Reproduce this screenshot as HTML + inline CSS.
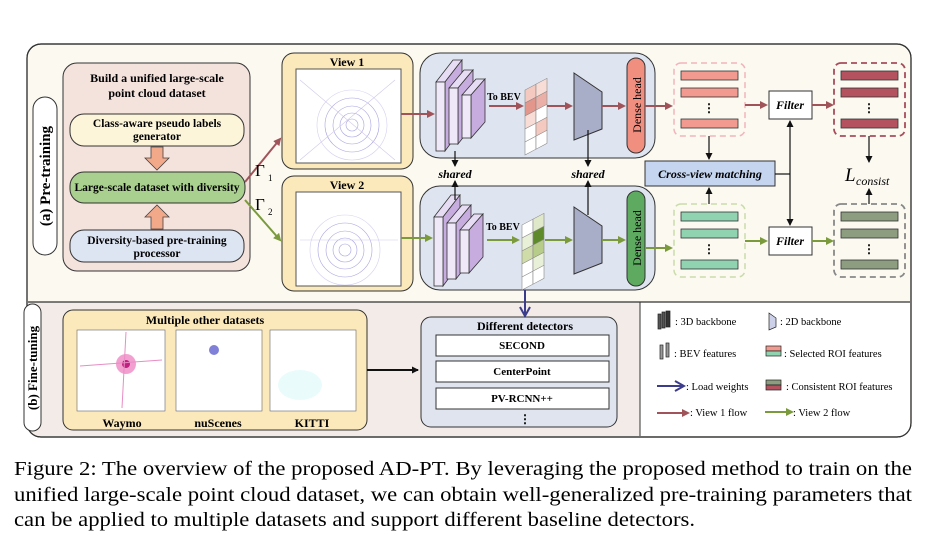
<!DOCTYPE html>
<html><head><meta charset="utf-8"><style>
html,body{margin:0;padding:0;background:#fff;}
svg{display:block;}
text{font-family:"Liberation Serif",serif;}
</style></head><body>
<svg width="951" height="539" viewBox="0 0 951 539" xmlns="http://www.w3.org/2000/svg">
<defs>
<marker id="ar" markerWidth="8" markerHeight="8" refX="6" refY="4" orient="auto" markerUnits="userSpaceOnUse"><path d="M0,0 L8,4 L0,8 z" fill="#a0545a"/></marker>
<marker id="ag" markerWidth="8" markerHeight="8" refX="6" refY="4" orient="auto" markerUnits="userSpaceOnUse"><path d="M0,0 L8,4 L0,8 z" fill="#7a9a3c"/></marker>
<marker id="ak" markerWidth="7" markerHeight="7" refX="6" refY="3.5" orient="auto" markerUnits="userSpaceOnUse"><path d="M0,0 L7,3.5 L0,7 z" fill="#111"/></marker>
<marker id="ab" markerWidth="12" markerHeight="12" refX="10" refY="6" orient="auto" markerUnits="userSpaceOnUse"><path d="M1,1 L10,6 L1,11" fill="none" stroke="#3c3c8c" stroke-width="2"/></marker>
<g id="plates">
 <g stroke="#333" stroke-width="0.8">
  <polygon points="436,82 453,60 462,60 445,82" fill="#e6dcf4"/>
  <polygon points="445,82 462,60 462,128 445,151" fill="#c7addf"/>
  <rect x="436" y="82" width="9" height="69" fill="#efe8f8"/>
  <polygon points="449,88 464,70 473,70 458,88" fill="#e6dcf4"/>
  <polygon points="458,88 473,70 473,125 458,144" fill="#c7addf"/>
  <rect x="449" y="88" width="9" height="56" fill="#efe8f8"/>
  <polygon points="462,95 476,79 485,79 471,95" fill="#e6dcf4"/>
  <polygon points="471,95 485,79 485,122 471,138" fill="#c7addf"/>
  <rect x="462" y="95" width="9" height="43" fill="#efe8f8"/>
 </g>
</g>
</defs>

<rect x="27" y="44" width="884" height="393" rx="14" fill="#fbf9f0" stroke="#333" stroke-width="1.2"/>
<path d="M28,302 L640,302 L640,436 L40,436 Q28,436 28,424 Z" fill="#f3ebe7"/>
<path d="M640,302 L910,302 L910,424 Q910,436 898,436 L640,436 Z" fill="#fff"/>
<line x1="28" y1="302" x2="910" y2="302" stroke="#333" stroke-width="1.2"/>
<line x1="640" y1="302" x2="640" y2="436" stroke="#333" stroke-width="1"/>
<rect x="27" y="44" width="884" height="393" rx="14" fill="none" stroke="#333" stroke-width="1.2"/>

<rect x="33" y="97" width="24" height="158" rx="12" fill="#fff" stroke="#333"/>
<text transform="translate(50,176) rotate(-90)" text-anchor="middle" font-size="15" font-weight="bold">(a) Pre-training</text>

<rect x="63" y="63" width="187" height="208" rx="14" fill="#f4e2dd" stroke="#333"/>
<text x="157" y="82" text-anchor="middle" font-size="12" font-weight="bold">Build a unified large-scale</text>
<text x="157" y="97" text-anchor="middle" font-size="12" font-weight="bold">point cloud dataset</text>
<rect x="70" y="114" width="174" height="32" rx="14" fill="#fcf5da" stroke="#333"/>
<text x="157" y="127" text-anchor="middle" font-size="11.5" font-weight="bold">Class-aware pseudo labels</text>
<text x="157" y="140" text-anchor="middle" font-size="11.5" font-weight="bold">generator</text>
<rect x="70" y="172" width="175" height="31" rx="14" fill="#a9d08e" stroke="#333"/>
<text x="157" y="191" text-anchor="middle" font-size="11.5" font-weight="bold">Large-scale dataset with diversity</text>
<rect x="70" y="230" width="174" height="32" rx="14" fill="#dde4f2" stroke="#333"/>
<text x="157" y="244" text-anchor="middle" font-size="11.5" font-weight="bold">Diversity-based pre-training</text>
<text x="157" y="257" text-anchor="middle" font-size="11.5" font-weight="bold">processor</text>
<polygon points="151,147 163,147 163,158 169,158 157,170 145,158 151,158" fill="#f2a98a" stroke="#444" stroke-width="0.8"/>
<polygon points="145,217 157,205 169,217 163,217 163,229 151,229 151,217" fill="#f2a98a" stroke="#444" stroke-width="0.8"/>

<line x1="245" y1="182" x2="280" y2="139" stroke="#a0545a" stroke-width="2" marker-end="url(#ar)"/>
<line x1="245" y1="200" x2="280" y2="240" stroke="#7a9a3c" stroke-width="2" marker-end="url(#ag)"/>
<text x="255" y="176" font-size="17">Γ</text><text x="268" y="181" font-size="9">1</text>
<text x="255" y="210" font-size="17">Γ</text><text x="268" y="215" font-size="9">2</text>

<rect x="282" y="53" width="131" height="116" rx="12" fill="#fbe9bc" stroke="#333"/>
<text x="347" y="66" text-anchor="middle" font-size="12" font-weight="bold">View 1</text>
<rect x="296" y="69" width="105" height="94" fill="#fff" stroke="#555"/>
<g fill="none" stroke="#a8a3e0" stroke-width="0.6">
<circle cx="352" cy="125" r="6"/><circle cx="352" cy="125" r="12"/><circle cx="352" cy="125" r="19"/><circle cx="352" cy="125" r="27"/><circle cx="352" cy="125" r="35" stroke="#d4d0f0"/>
<line x1="300" y1="80" x2="395" y2="160" stroke="#d0c8ea"/><line x1="300" y1="160" x2="395" y2="80" stroke="#d0c8ea"/>
</g>
<rect x="282" y="176" width="131" height="115" rx="12" fill="#fbe9bc" stroke="#333"/>
<text x="347" y="189" text-anchor="middle" font-size="12" font-weight="bold">View 2</text>
<rect x="296" y="192" width="105" height="94" fill="#fff" stroke="#555"/>
<g fill="none" stroke="#a8a3e0" stroke-width="0.6">
<circle cx="345" cy="250" r="6"/><circle cx="345" cy="250" r="12"/><circle cx="345" cy="250" r="19"/><circle cx="345" cy="250" r="27"/><circle cx="345" cy="250" r="35" stroke="#d4d0f0"/>
<line x1="300" y1="240" x2="398" y2="240" stroke="#d0c8ea"/>
</g>

<rect x="420" y="53" width="235" height="105" rx="20" fill="#dfe5f0" stroke="#333"/>
<rect x="420" y="186" width="235" height="104" rx="20" fill="#dfe5f0" stroke="#333"/>
<line x1="401" y1="114" x2="433" y2="114" stroke="#a0545a" stroke-width="2" marker-end="url(#ar)"/>
<line x1="401" y1="238" x2="431" y2="238" stroke="#7a9a3c" stroke-width="2" marker-end="url(#ag)"/>
<use href="#plates"/>
<use href="#plates" transform="translate(-2,135)"/>
<g transform="translate(525,78) skewY(-28)" stroke="#888" stroke-width="0.6">
 <rect x="0" y="12" width="11" height="13" fill="#f4c9c0"/><rect x="11" y="12" width="11" height="13" fill="#f8ddd6"/>
 <rect x="0" y="25" width="11" height="13" fill="#e3968c"/><rect x="11" y="25" width="11" height="13" fill="#eab0a8"/>
 <rect x="0" y="38" width="11" height="13" fill="#f8ddd6"/><rect x="11" y="38" width="11" height="13" fill="#fff"/>
 <rect x="0" y="51" width="11" height="13" fill="#fff"/><rect x="11" y="51" width="11" height="13" fill="#f4c9c0"/>
 <rect x="0" y="64" width="11" height="13" fill="#fff"/><rect x="11" y="64" width="11" height="13" fill="#fff"/>
</g>
<g transform="translate(522,213) skewY(-28)" stroke="#888" stroke-width="0.6">
 <rect x="0" y="12" width="11" height="13" fill="#fff"/><rect x="11" y="12" width="11" height="13" fill="#dfe8c8"/>
 <rect x="0" y="25" width="11" height="13" fill="#e9f0d8"/><rect x="11" y="25" width="11" height="13" fill="#5f8a2c"/>
 <rect x="0" y="38" width="11" height="13" fill="#cfdcaa"/><rect x="11" y="38" width="11" height="13" fill="#b8cc8a"/>
 <rect x="0" y="51" width="11" height="13" fill="#fff"/><rect x="11" y="51" width="11" height="13" fill="#e9f0d8"/>
 <rect x="0" y="64" width="11" height="13" fill="#fff"/><rect x="11" y="64" width="11" height="13" fill="#fff"/>
</g>
<text x="487" y="100" font-size="10" font-weight="bold">To BEV</text>
<text x="486" y="230" font-size="10" font-weight="bold">To BEV</text>
<line x1="489" y1="106" x2="522" y2="106" stroke="#a0545a" stroke-width="2" marker-end="url(#ar)"/>
<line x1="547" y1="106" x2="571" y2="106" stroke="#a0545a" stroke-width="2" marker-end="url(#ar)"/>
<line x1="487" y1="240" x2="518" y2="240" stroke="#7a9a3c" stroke-width="2" marker-end="url(#ag)"/>
<line x1="545" y1="240" x2="571" y2="240" stroke="#7a9a3c" stroke-width="2" marker-end="url(#ag)"/>
<polygon points="574,73 602,92 602,129 574,140" fill="#a9aec8" stroke="#333"/>
<polygon points="574,207 602,226 602,263 574,274" fill="#a9aec8" stroke="#333"/>
<line x1="602" y1="106" x2="624" y2="106" stroke="#a0545a" stroke-width="2" marker-end="url(#ar)"/>
<line x1="602" y1="240" x2="624" y2="240" stroke="#7a9a3c" stroke-width="2" marker-end="url(#ag)"/>
<rect x="627" y="58" width="18" height="95" rx="9" fill="#f08e80" stroke="#333"/>
<text transform="translate(641,105) rotate(-90)" text-anchor="middle" font-size="12">Dense head</text>
<rect x="627" y="191" width="18" height="95" rx="9" fill="#5daa60" stroke="#333"/>
<text transform="translate(641,238) rotate(-90)" text-anchor="middle" font-size="12">Dense head</text>

<line x1="455" y1="151" x2="455" y2="166" stroke="#111" stroke-width="1.2" marker-end="url(#ak)"/>
<line x1="455" y1="200" x2="455" y2="181" stroke="#111" stroke-width="1.2" marker-end="url(#ak)"/>
<text x="455" y="178" text-anchor="middle" font-size="12" font-weight="bold" font-style="italic">shared</text>
<line x1="588" y1="130" x2="588" y2="166" stroke="#111" stroke-width="1.2" marker-end="url(#ak)"/>
<line x1="588" y1="215" x2="588" y2="181" stroke="#111" stroke-width="1.2" marker-end="url(#ak)"/>
<text x="588" y="178" text-anchor="middle" font-size="12" font-weight="bold" font-style="italic">shared</text>

<line x1="645" y1="106" x2="671" y2="106" stroke="#a0545a" stroke-width="2" marker-end="url(#ar)"/>
<line x1="645" y1="248" x2="671" y2="248" stroke="#7a9a3c" stroke-width="2" marker-end="url(#ag)"/>

<rect x="674" y="63" width="71" height="73" rx="7" fill="none" stroke="#f2b4bc" stroke-width="1.5" stroke-dasharray="6,4"/>
<g fill="#f29a90" stroke="#333" stroke-width="0.8"><rect x="681" y="71" width="57" height="9"/><rect x="681" y="88" width="57" height="9"/><rect x="681" y="119" width="57" height="9"/></g>
<text x="709" y="112" text-anchor="middle" font-size="12" font-weight="bold">⋮</text>
<rect x="674" y="204" width="71" height="73" rx="7" fill="none" stroke="#c9dcaa" stroke-width="1.5" stroke-dasharray="6,4"/>
<g fill="#8fd3b0" stroke="#333" stroke-width="0.8"><rect x="681" y="212" width="57" height="9"/><rect x="681" y="229" width="57" height="9"/><rect x="681" y="260" width="57" height="9"/></g>
<text x="709" y="253" text-anchor="middle" font-size="12" font-weight="bold">⋮</text>
<rect x="834" y="63" width="71" height="73" rx="7" fill="none" stroke="#a84c5c" stroke-width="1.8" stroke-dasharray="6,4"/>
<g fill="#b5525f" stroke="#333" stroke-width="0.8"><rect x="841" y="71" width="57" height="9"/><rect x="841" y="88" width="57" height="9"/><rect x="841" y="119" width="57" height="9"/></g>
<text x="869" y="112" text-anchor="middle" font-size="12" font-weight="bold">⋮</text>
<rect x="834" y="204" width="71" height="73" rx="7" fill="none" stroke="#888" stroke-width="1.8" stroke-dasharray="6,4"/>
<g fill="#8d9d80" stroke="#333" stroke-width="0.8"><rect x="841" y="212" width="57" height="9"/><rect x="841" y="229" width="57" height="9"/><rect x="841" y="260" width="57" height="9"/></g>
<text x="869" y="253" text-anchor="middle" font-size="12" font-weight="bold">⋮</text>

<rect x="769" y="91" width="43" height="28" fill="#fff" stroke="#333"/>
<text x="790" y="109" text-anchor="middle" font-size="12" font-weight="bold" font-style="italic">Filter</text>
<rect x="769" y="227" width="43" height="28" fill="#fff" stroke="#333"/>
<text x="790" y="245" text-anchor="middle" font-size="12" font-weight="bold" font-style="italic">Filter</text>
<line x1="745" y1="105" x2="766" y2="105" stroke="#a0545a" stroke-width="2" marker-end="url(#ar)"/>
<line x1="812" y1="105" x2="832" y2="105" stroke="#a0545a" stroke-width="2" marker-end="url(#ar)"/>
<line x1="745" y1="241" x2="766" y2="241" stroke="#7a9a3c" stroke-width="2" marker-end="url(#ag)"/>
<line x1="812" y1="241" x2="832" y2="241" stroke="#7a9a3c" stroke-width="2" marker-end="url(#ag)"/>

<rect x="645" y="161" width="130" height="25" fill="#c5d5f0" stroke="#333"/>
<text x="710" y="178" text-anchor="middle" font-size="12" font-weight="bold" font-style="italic">Cross-view matching</text>
<line x1="709" y1="136" x2="709" y2="159" stroke="#111" stroke-width="1.2" marker-end="url(#ak)"/>
<line x1="709" y1="204" x2="709" y2="188" stroke="#111" stroke-width="1.2" marker-end="url(#ak)"/>
<line x1="775" y1="174" x2="790" y2="174" stroke="#111" stroke-width="1.2"/>
<line x1="790" y1="174" x2="790" y2="121" stroke="#111" stroke-width="1.2" marker-end="url(#ak)"/>
<line x1="790" y1="174" x2="790" y2="225" stroke="#111" stroke-width="1.2" marker-end="url(#ak)"/>
<line x1="869" y1="136" x2="869" y2="162" stroke="#111" stroke-width="1.2" marker-end="url(#ak)"/>
<line x1="869" y1="204" x2="869" y2="189" stroke="#111" stroke-width="1.2" marker-end="url(#ak)"/>
<text x="845" y="181" font-size="19" font-style="italic">L</text>
<text x="856" y="185" font-size="12" font-style="italic">consist</text>

<rect x="24" y="304" width="17" height="127" rx="8.5" fill="#fff" stroke="#333"/>
<text transform="translate(37,368) rotate(-90)" text-anchor="middle" font-size="13" font-weight="bold">(b) Fine-tuning</text>
<rect x="63" y="310" width="304" height="120" rx="10" fill="#fbe9bc" stroke="#333"/>
<text x="205" y="324" text-anchor="middle" font-size="12" font-weight="bold">Multiple other datasets</text>
<rect x="77" y="330" width="88" height="81" fill="#fff" stroke="#666" stroke-width="0.6"/>
<circle cx="126" cy="364" r="10" fill="#f2a0d0"/><circle cx="126" cy="364" r="4" fill="#c02080"/>
<line x1="80" y1="366" x2="162" y2="360" stroke="#e88cc4"/><line x1="126" y1="332" x2="122" y2="408" stroke="#e88cc4"/>
<rect x="176" y="330" width="86" height="81" fill="#fff" stroke="#666" stroke-width="0.6"/>
<circle cx="214" cy="350" r="5" fill="#8080d8"/>
<rect x="270" y="330" width="86" height="81" fill="#fff" stroke="#666" stroke-width="0.6"/>
<ellipse cx="300" cy="385" rx="22" ry="15" fill="#eafbfb"/>
<text x="122" y="427" text-anchor="middle" font-size="12" font-weight="bold">Waymo</text>
<text x="218" y="427" text-anchor="middle" font-size="12" font-weight="bold">nuScenes</text>
<text x="312" y="427" text-anchor="middle" font-size="12" font-weight="bold">KITTI</text>
<line x1="367" y1="370" x2="418" y2="370" stroke="#111" stroke-width="2" marker-end="url(#ak)"/>
<rect x="421" y="317" width="196" height="110" rx="10" fill="#dfe4ee" stroke="#333"/>
<text x="525" y="330" text-anchor="middle" font-size="12" font-weight="bold">Different detectors</text>
<rect x="436" y="335" width="173" height="21" fill="#fff" stroke="#333"/>
<text x="522" y="349" text-anchor="middle" font-size="11" font-weight="bold">SECOND</text>
<rect x="436" y="361" width="173" height="21" fill="#fff" stroke="#333"/>
<text x="522" y="375" text-anchor="middle" font-size="11" font-weight="bold">CenterPoint</text>
<rect x="436" y="388" width="173" height="21" fill="#fff" stroke="#333"/>
<text x="522" y="402" text-anchor="middle" font-size="11" font-weight="bold">PV-RCNN++</text>
<text x="525" y="423" text-anchor="middle" font-size="12" font-weight="bold">⋮</text>
<line x1="525" y1="290" x2="525" y2="316" stroke="#3c3c8c" stroke-width="2" marker-end="url(#ab)"/>

<g stroke="#222" stroke-width="0.7">
<rect x="658" y="314" width="3" height="15" fill="#555"/><rect x="662" y="312" width="3" height="16" fill="#555"/><rect x="666" y="311" width="4" height="16" fill="#333"/>
<polygon points="769,313 776,318 776,327 769,330" fill="#ccd0e8"/>
<rect x="660" y="345" width="3" height="14" fill="#999"/><rect x="666" y="343" width="3" height="14" fill="#999"/>
<rect x="766" y="346" width="15" height="5" fill="#f29a90"/><rect x="766" y="351" width="15" height="5" fill="#8fd3b0"/>
<rect x="766" y="380" width="15" height="5" fill="#8d9d80"/><rect x="766" y="385" width="15" height="5" fill="#b5525f"/>
</g>
<line x1="657" y1="386" x2="684" y2="386" stroke="#3c3c8c" stroke-width="2" marker-end="url(#ab)"/>
<line x1="657" y1="413" x2="688" y2="413" stroke="#a0545a" stroke-width="2" marker-end="url(#ar)"/>
<line x1="765" y1="412" x2="792" y2="412" stroke="#7a9a3c" stroke-width="2" marker-end="url(#ag)"/>
<g font-size="10.5">
<text x="675" y="325">: 3D backbone</text>
<text x="780" y="325">: 2D backbone</text>
<text x="674" y="357">: BEV features</text>
<text x="784" y="357">: Selected ROI features</text>
<text x="686" y="390">: Load weights</text>
<text x="786" y="390">: Consistent ROI features</text>
<text x="690" y="416">: View 1 flow</text>
<text x="793" y="416">: View 2 flow</text>
</g>

<g font-size="19.5">
<text x="14" y="475" textLength="898" lengthAdjust="spacingAndGlyphs">Figure 2: The overview of the proposed AD-PT. By leveraging the proposed method to train on the</text>
<text x="14" y="501" textLength="898" lengthAdjust="spacingAndGlyphs">unified large-scale point cloud dataset, we can obtain well-generalized pre-training parameters that</text>
<text x="14" y="526" textLength="681" lengthAdjust="spacingAndGlyphs">can be applied to multiple datasets and support different baseline detectors.</text>
</g>
</svg>
</body></html>
